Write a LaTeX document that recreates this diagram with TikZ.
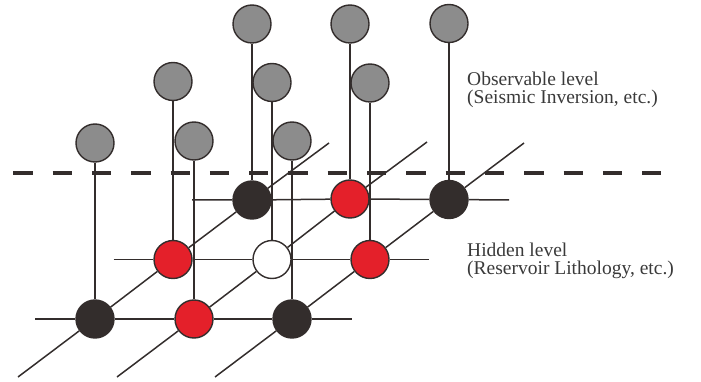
\documentclass[tikz,border=0pt]{standalone}
\usepackage{fontspec}
\setmainfont{Liberation Serif}
\usetikzlibrary{backgrounds}

\definecolor{ink}{HTML}{332D2C}
\definecolor{obsgray}{HTML}{8C8C8C}
\definecolor{litho}{HTML}{E4202A}
\definecolor{txtgray}{HTML}{3A3A3A}

\tikzset{
  hid/.style={circle, draw=ink, line width=1.4pt, minimum size=38pt, inner sep=0pt},
  dark/.style={hid, fill=ink},
  sand/.style={hid, fill=litho},
  unk/.style={hid, fill=white},
  obs/.style={hid, fill=obsgray},
  gridline/.style={draw=ink, line width=1.5pt},
  stem/.style={draw=ink, line width=1.6pt},
  levelline/.style={draw=ink, line width=4pt, dash pattern=on 19.3pt off 20pt},
  lbl/.style={anchor=base west, inner sep=0pt, text=txtgray, font=\fontsize{19.5}{18}\selectfont}
}

\begin{document}
\begin{tikzpicture}[x=1pt, y=-1pt]
\useasboundingbox (0,0) rectangle (701,382);

% hidden level, front row to back row
\node[dark] (h11) at (95,319) {};
\node[sand] (h12) at (194,319) {};
\node[dark] (h13) at (292,319) {};
\node[sand] (h21) at (173,259.5) {};
\node[unk]  (h22) at (272,259.5) {};
\node[sand] (h23) at (370,259.5) {};
\node[dark] (h31) at (252,200) {};
\node[sand] (h32) at (350,199) {};
\node[dark] (h33) at (449,199.5) {};

% observable level
\node[obs] (o11) at (95,143) {};
\node[obs] (o12) at (194,141) {};
\node[obs] (o13) at (292,141) {};
\node[obs] (o21) at (173,81.5) {};
\node[obs] (o22) at (272,82.5) {};
\node[obs] (o23) at (370,83) {};
\node[obs] (o31) at (252,24) {};
\node[obs] (o32) at (350,24) {};
\node[obs] (o33) at (449,23.5) {};

% free ends of the grid
\coordinate (r1w) at (35,319);   \coordinate (r1e) at (352,319);
\coordinate (r2w) at (113.5,259.5); \coordinate (r2e) at (429,259.5);
\coordinate (r3w) at (192,200);  \coordinate (r3e) at (509,200);
\coordinate (d1s) at (18,377);   \coordinate (d1n) at (329,143);
\coordinate (d2s) at (117,377);  \coordinate (d2n) at (427,142);
\coordinate (d3s) at (215,377);  \coordinate (d3n) at (524,143);
\coordinate (dashw) at (13.3,173); \coordinate (dashe) at (662,173);

% labels
\node[lbl] (obstop) at (467,86) {Observable level};
\node[lbl] (obsbot) at (467,104) {(Seismic Inversion, etc.)};
\node[lbl] (hidtop) at (467,256) {Hidden level};
\node[lbl] (hidbot) at (467,274) {(Reservoir Lithology, etc.)};

\begin{scope}[on background layer]
% boundary between the levels
\draw[levelline] (dashw) -- (dashe);

% rows
\draw[gridline] (r1w) -- (h11) -- (h12) -- (h13) -- (r1e);
\draw[gridline] (r2w) -- (h21) -- (h22) -- (h23) -- (r2e);
\draw[gridline] (r3w) -- (h31) -- (h32) -- (h33) -- (r3e);

% diagonals
\draw[gridline] (d1s) -- (h11) -- (h21) -- (h31) -- (d1n);
\draw[gridline] (d2s) -- (h12) -- (h22) -- (h32) -- (d2n);
\draw[gridline] (d3s) -- (h13) -- (h23) -- (h33) -- (d3n);

% stems
\draw[stem] (o11) -- (h11);
\draw[stem] (o12) -- (h12);
\draw[stem] (o13) -- (h13);
\draw[stem] (o21) -- (h21);
\draw[stem] (o22) -- (h22);
\draw[stem] (o23) -- (h23);
\draw[stem] (o31) -- (h31);
\draw[stem] (o32) -- (h32);
\draw[stem] (o33) -- (h33);
\end{scope}

\end{tikzpicture}
\end{document}
